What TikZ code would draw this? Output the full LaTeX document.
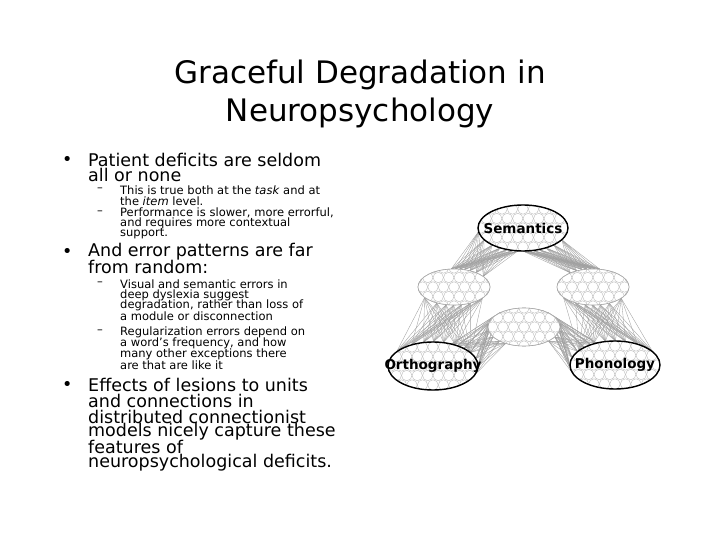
\documentclass[tikz,border=0pt]{standalone}
\usepackage{fontspec}
\setmainfont{DejaVu Sans}
\usetikzlibrary{shapes.geometric,calc}
\begin{document}
\begin{tikzpicture}[x=1pt,y=-1pt,
  title/.style={font=\fontsize{31}{33}\selectfont},
  lvl1/.style={anchor=west,inner sep=0,font=\fontsize{17.5}{18}\selectfont},
  lvl2/.style={anchor=west,inner sep=0,font=\fontsize{11.5}{12}\selectfont},
  layer/.style={ellipse,draw=gray!70,line width=0.6pt,inner sep=0},
  conn/.style={gray!75,line width=0.35pt},
  lab/.style={font=\bfseries\fontsize{13.5}{14}\selectfont}]
\useasboundingbox (0,0) rectangle (720,540);
% title
\node[title] (t1) at (360,75) {Graceful Degradation in};
\node[title] (t2) at (360,113) {Neuropsychology};
% bullets
\node[lvl1] (b1) at (62,161) {•};
\node[lvl1] (b1a) at (88,160) {Patient deficits are seldom};
\node[lvl1] (b1b) at (88,175) {all or none};
\node[lvl2] (d1) at (97,190) {–};
\node[lvl2] (s1a) at (120,190) {This is true both at the \textit{task} and at};
\node[lvl2] (s1b) at (120,201) {the \textit{item} level.};
\node[lvl2] (d2) at (97,213) {–};
\node[lvl2] (s2a) at (120,213) {Performance is slower, more errorful,};
\node[lvl2] (s2b) at (120,223) {and requires more contextual};
\node[lvl2] (s2c) at (120,234) {support.};
\node[lvl1] (b2) at (62,253) {•};
\node[lvl1] (b2a) at (88,252) {And error patterns are far};
\node[lvl1] (b2b) at (88,267) {from random:};
\node[lvl2] (d3) at (97,284) {–};
\node[lvl2] (s3a) at (120,284) {Visual and semantic errors in};
\node[lvl2] (s3b) at (120,295) {deep dyslexia suggest};
\node[lvl2] (s3c) at (120,305) {degradation, rather than loss of};
\node[lvl2] (s3d) at (120,316) {a module or disconnection};
\node[lvl2] (d4) at (97,332) {–};
\node[lvl2] (s4a) at (120,332) {Regularization errors depend on};
\node[lvl2] (s4b) at (120,343) {a word’s frequency, and how};
\node[lvl2] (s4c) at (120,354) {many other exceptions there};
\node[lvl2] (s4d) at (120,365) {are that are like it};
\node[lvl1] (b3) at (62,386) {•};
\node[lvl1] (b3a) at (88,385) {Effects of lesions to units};
\node[lvl1] (b3b) at (88,401) {and connections in};
\node[lvl1] (b3c) at (88,417) {distributed connectionist};
\node[lvl1] (b3d) at (88,432) {models nicely capture these};
\node[lvl1] (b3e) at (88,447) {features of};
\node[lvl1] (b3f) at (88,463) {neuropsychological deficits.};
% network layers (shapes for anchors)
\node[layer,minimum width=90,minimum height=46] (sem) at (523,228) {};
\node[layer,minimum width=72,minimum height=36] (hl) at (454,287) {};
\node[layer,minimum width=72,minimum height=36] (hr) at (593,287) {};
\node[layer,minimum width=72,minimum height=38] (hm) at (524,327) {};
\node[layer,minimum width=90,minimum height=48] (orth) at (433,366) {};
\node[layer,minimum width=90,minimum height=48] (phon) at (615,365) {};
% connections
\foreach \a in {0,...,6}{\foreach \b in {0,...,6}{
  \draw[conn] (sem.{185+\a*12}) -- (hl.{20+\b*13});
  \draw[conn] (sem.{271+\a*12}) -- (hr.{70+\b*13});
  \draw[conn] (hl.{200+\a*23}) -- (orth.{20+\b*23});
  \draw[conn] (hr.{200+\a*23}) -- (phon.{20+\b*23});
  \draw[conn] (hm.{150+\a*12}) -- (orth.{-10+\b*10});
  \draw[conn] (hm.{-30+\a*12}) -- (phon.{130+\b*10});
}}
% fill layers with units
\foreach \n/\rx/\ry in {sem/45/23,hl/36/18,hr/36/18,hm/36/19,orth/45/24,phon/45/24}{
  \fill[white] (\n.center) ellipse ({\rx} and {\ry});
  \begin{scope}
    \clip (\n.center) ellipse ({\rx} and {\ry});
    \foreach \i in {-5,...,5}{\foreach \j in {-3,...,3}{
      \draw[gray!55,line width=0.4pt] ($(\n.center)+({\i*10.5+mod(\j+10,2)*5.25},{\j*9.5})$) circle (5.2);
    }}
  \end{scope}
}
\draw[gray!70,line width=0.6pt] (hl.center) ellipse (36 and 18);
\draw[gray!70,line width=0.6pt] (hr.center) ellipse (36 and 18);
\draw[gray!70,line width=0.6pt] (hm.center) ellipse (36 and 19);
\draw[black,line width=1.4pt] (sem.center) ellipse (45 and 23);
\draw[black,line width=1.4pt] (orth.center) ellipse (45 and 24);
\draw[black,line width=1.4pt] (phon.center) ellipse (45 and 24);
\node[lab] (semL) at (sem.center) {Semantics};
\node[lab] (orthL) at (orth.center) {Orthography};
\node[lab] (phonL) at (phon.center) {Phonology};
\end{tikzpicture}
\end{document}
